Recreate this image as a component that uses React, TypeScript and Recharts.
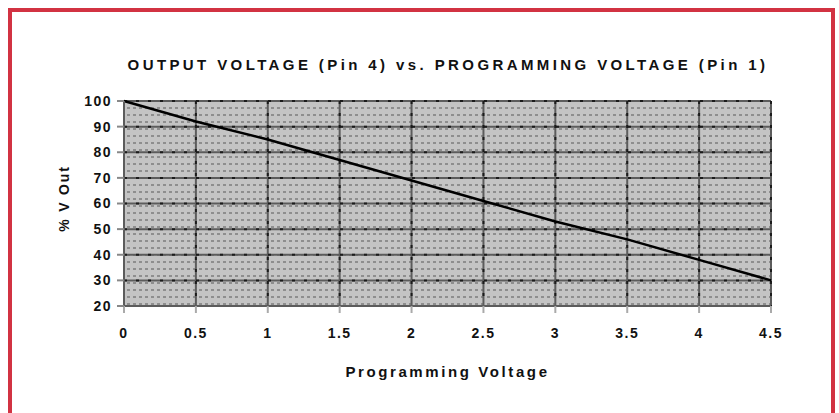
import React from 'react';
import { LineChart, Line, XAxis, YAxis, CartesianGrid, Label } from 'recharts';

const programmingVoltage = [0, 0.5, 1, 1.5, 2, 2.5, 3, 3.5, 4, 4.5];
const percentVOut = [100, 92, 85, 77, 69, 61, 53, 46, 38, 30];
const xTicks = [0, 0.5, 1, 1.5, 2, 2.5, 3, 3.5, 4, 4.5];
const yTicks = [20, 30, 40, 50, 60, 70, 80, 90, 100];
const titleText = 'OUTPUT VOLTAGE (Pin 4) vs. PROGRAMMING VOLTAGE (Pin 1)';
const xLabel = 'Programming Voltage';
const yLabel = '% V Out';

const data = programmingVoltage.map((v, i) => ({ x: v, y: percentVOut[i] }));

const FONT = '"Liberation Sans", Arial, sans-serif';

export default function App() {
  return (
    <div style={{ position: 'absolute', left: 0, top: 0, width: 839, height: 413, overflow: 'hidden', background: '#fff' }}>
      <div
        style={{
          position: 'absolute',
          left: 8,
          top: 8,
          width: 827,
          height: 430,
          boxSizing: 'border-box',
          border: '4px solid #d23242',
        }}
      />
      <div
        style={{
          position: 'absolute',
          left: 0,
          top: 56,
          width: 896,
          textAlign: 'center',
          fontFamily: FONT,
          fontWeight: 'bold',
          fontSize: 15,
          letterSpacing: 3.4,
          color: '#111',
          whiteSpace: 'nowrap',
        }}
      >
        {titleText}
      </div>
      <div style={{ position: 'absolute', left: 0, top: 0 }}>
        <LineChart
          width={839}
          height={413}
          data={data}
          margin={{ top: 101, right: 68, bottom: 32, left: 4 }}
        >
          <defs>
            <pattern id="dotfill" x="0" y="0" width="6" height="7" patternUnits="userSpaceOnUse">
              <rect x="0" y="0" width="6" height="7" fill="#c4c4c4" />
              <rect x="1" y="2" width="3" height="2" fill="#8e8e8e" />
            </pattern>
          </defs>
          <CartesianGrid stroke="#5c5c5c" strokeWidth={2} fill="url(#dotfill)" fillOpacity={1} />
          <CartesianGrid stroke="#1c1c1c" strokeWidth={2} strokeDasharray="3 9" fill="none" />
          <XAxis
            dataKey="x"
            type="number"
            domain={[0, 4.5]}
            ticks={xTicks}
            height={75}
            axisLine={{ stroke: '#5c5c5c', strokeWidth: 2 }}
            tickLine={{ stroke: '#aaaaaa', strokeWidth: 2 }}
            tickSize={7}
            tickMargin={15}
            tick={{ fill: '#111', fontSize: 14, fontWeight: 'bold', fontFamily: FONT, letterSpacing: 1.5 }}
            interval={0}
          >
            <Label
              value={xLabel}
              position="insideBottom"
              offset={4}
              style={{ fill: '#111', fontSize: 15, fontWeight: 'bold', fontFamily: FONT, letterSpacing: 2.6 }}
            />
          </XAxis>
          <YAxis
            type="number"
            domain={[20, 100]}
            ticks={yTicks}
            width={120}
            axisLine={{ stroke: '#5c5c5c', strokeWidth: 2 }}
            tickLine={{ stroke: '#888888', strokeWidth: 2 }}
            tickSize={7}
            tickMargin={5}
            tick={{ fill: '#111', fontSize: 14, fontWeight: 'bold', fontFamily: FONT, letterSpacing: 1.5 }}
            interval={0}
          >
            <Label
              value={yLabel}
              position="center"
              angle={-90}
              dy={-5}
              style={{ fill: '#111', fontSize: 14, fontWeight: 'bold', fontFamily: FONT, letterSpacing: 1.8 }}
            />
          </YAxis>
          <Line
            type="linear"
            dataKey="y"
            stroke="#000"
            strokeWidth={2.5}
            dot={false}
            isAnimationActive={false}
          />
        </LineChart>
      </div>
    </div>
  );
}
